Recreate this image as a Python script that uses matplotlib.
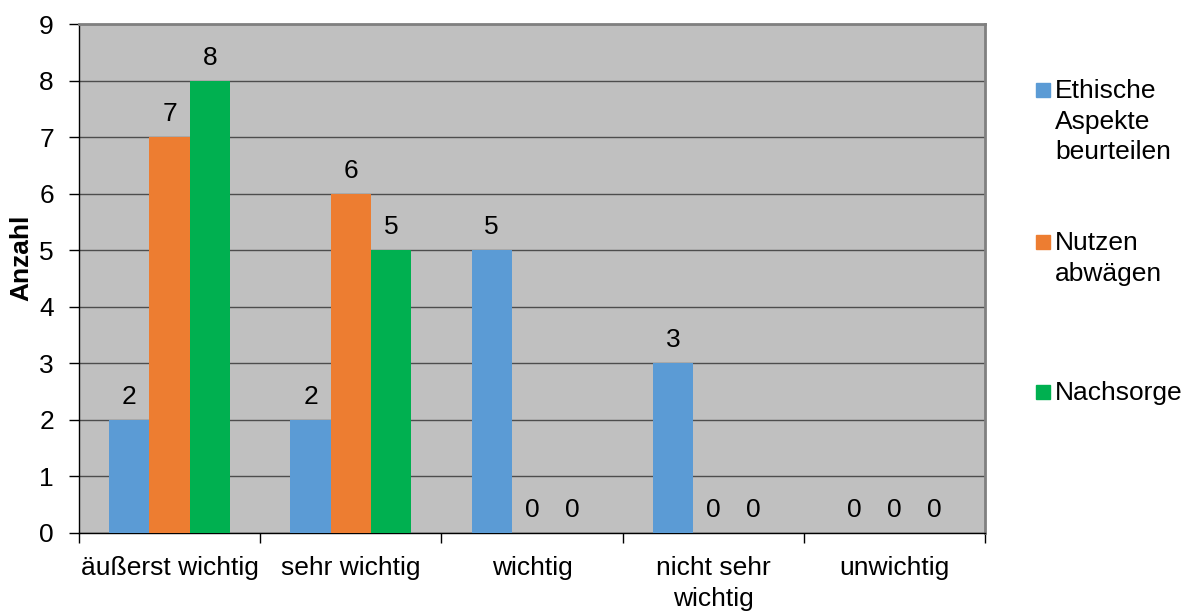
import matplotlib
matplotlib.use("Agg")
import matplotlib.pyplot as plt
import numpy as np
from matplotlib.patches import Rectangle

plt.rcParams['font.family'] = ['Liberation Sans', 'DejaVu Sans']

categories = ["äußerst wichtig", "sehr wichtig", "wichtig", "nicht sehr\nwichtig", "unwichtig"]
series_names = ["Ethische\nAspekte\nbeurteilen", "Nutzen\nabwägen", "Nachsorge"]
ethische = [2, 2, 5, 3, 0]
nutzen = [7, 6, 0, 0, 0]
nachsorge = [8, 5, 0, 0, 0]
series_values = [ethische, nutzen, nachsorge]
colors = ["#5B9BD5", "#ED7D31", "#00B050"]
y_ticks = list(range(0, 10))

FS = 19

fig = plt.figure(figsize=(11.86, 6.11), dpi=100)
ax = fig.add_axes([79 / 1186, 1 - 533 / 611, (985 - 79) / 1186, (533 - 24) / 611])
ax.set_facecolor("#C0C0C0")

n = len(series_values)
bar_w = 1 / (n + 1.5)
x = np.arange(len(categories))
for i, (vals, col) in enumerate(zip(series_values, colors)):
    pos = x + (i - (n - 1) / 2) * bar_w
    ax.bar(pos, vals, width=bar_w, color=col, zorder=3)
    for px, v in zip(pos, vals):
        ax.annotate(str(v), (px, v), xytext=(0, 16.5), textcoords="offset points",
                    ha="center", va="center", fontsize=FS, zorder=4)

ax.set_xlim(-0.5, len(categories) - 0.5)
ax.set_ylim(0, 9)
ax.set_yticks(y_ticks)
ax.set_yticklabels([str(t) for t in y_ticks], fontsize=FS)
ax.yaxis.grid(True, color="#4d4d4d", lw=1, zorder=1)
ax.set_axisbelow(True)

# category labels centred, tick marks at category boundaries
ax.set_xticks(x)
ax.set_xticklabels(categories, fontsize=FS, linespacing=1.35)
ax.tick_params(axis="x", length=0, pad=16.5)
ax.set_xticks(np.arange(-0.5, len(categories)), minor=True)
ax.tick_params(axis="x", which="minor", length=7, width=1, color="black")
ax.tick_params(axis="y", length=7, width=1, color="black", pad=11)

for side in ["top", "right"]:
    ax.spines[side].set_color("#808080")
    ax.spines[side].set_linewidth(2)
for side in ["left", "bottom"]:
    ax.spines[side].set_color("black")
    ax.spines[side].set_linewidth(1)

ax.set_ylabel("Anzahl", fontsize=FS, fontweight="bold")
ax.yaxis.set_label_coords((33 - 79) / 906, 0.54)

# legend entries: square marker beside first line of each label
legend_rows = [83, 235, 385]
for name, col, ytop in zip(series_names, colors, legend_rows):
    fig.patches.append(Rectangle((1036 / 1186, 1 - (ytop + 14) / 611), 14 / 1186, 14 / 611,
                                 transform=fig.transFigure, color=col))
    fig.text(1055 / 1186, 1 - (ytop - 4) / 611, name, fontsize=FS, va="top", ha="left",
             linespacing=1.35)

fig.savefig("out.png", dpi=100)
